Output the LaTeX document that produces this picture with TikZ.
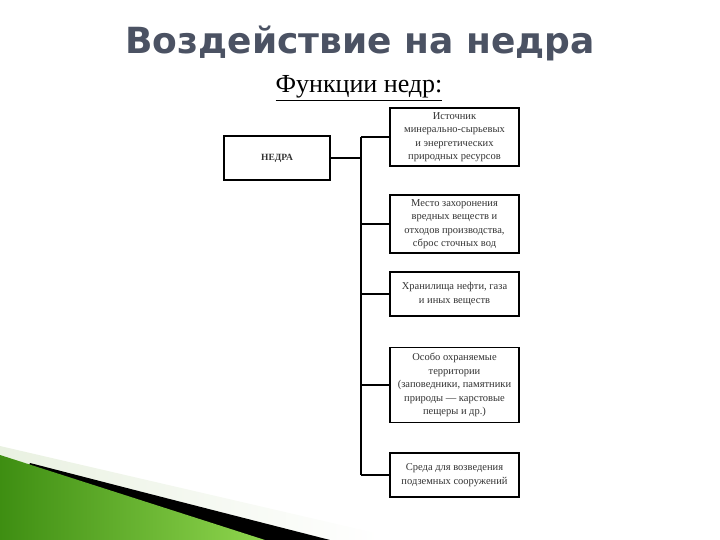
\documentclass[tikz,border=0pt]{standalone}
\usepackage{fontspec}
\setmainfont{Liberation Serif}
\newfontfamily\titlefont{DejaVu Sans}
\definecolor{titlecol}{HTML}{4B5263}
\definecolor{greendark}{HTML}{3E8E12}
\definecolor{greenlight}{HTML}{8FD64E}
\definecolor{paleband}{HTML}{E9F1E1}
\definecolor{boxtext}{HTML}{333333}
\begin{document}
\begin{tikzpicture}[x=1bp,y=-1bp,
  fbox/.style={draw=black, line width=1.3bp, fill=white, minimum width=129bp,
    inner sep=1bp, align=center, text=boxtext,
    font=\fontsize{10.5bp}{13.5bp}\selectfont},
  conn/.style={line width=1.3bp, draw=black}]
\useasboundingbox (0,0) rectangle (720,540);
% decoration bottom-left
\shade[left color=paleband, right color=white] (0,446) -- (380,534) -- (380,540) -- (0,540) -- cycle;
\fill[black] (30,463) .. controls (150,494) .. (330,540) -- (0,540) -- cycle;
\shade[left color=greendark, right color=greenlight] (0,455) -- (265,540) -- (0,540) -- cycle;
% title
\node[text=titlecol, font=\titlefont\bfseries\fontsize{36bp}{42bp}\selectfont] (title) at (360,43) {Воздействие на недра};
\node[font=\fontsize{26bp}{30bp}\selectfont] (sub) at (359,88) {\underline{Функции недр:}};
% main box
\node[draw=black, line width=1.3bp, minimum width=106bp, minimum height=44bp,
  font=\bfseries\fontsize{9.5bp}{11bp}\selectfont, text=boxtext] (nedra) at (277,158) {НЕДРА};
% right boxes
\node[fbox, minimum height=58bp] (b1) at (454.5,137) {Источник\\минерально-сырьевых\\и энергетических\\природных ресурсов};
\node[fbox, minimum height=58bp] (b2) at (454.5,224) {Место захоронения\\вредных веществ и\\отходов производства,\\сброс сточных вод};
\node[fbox, minimum height=44bp] (b3) at (454.5,294) {Хранилища нефти, газа\\и иных веществ};
\node[fbox, minimum height=75bp] (b4) at (454.5,385) {Особо охраняемые\\территории\\(заповедники, памятники\\природы — карстовые\\пещеры и др.)};
\node[fbox, minimum height=44bp] (b5) at (454.5,475) {Среда для возведения\\подземных сооружений};
% connectors
\coordinate (top) at (361,137);
\coordinate (bot) at (361,475);
\coordinate (mid) at (361,158);
\draw[conn] (top) -- (bot);
\draw[conn] (nedra.east) -- (mid);
\draw[conn] (top) -- (b1.west);
\draw[conn] (361,224) -- (b2.west);
\draw[conn] (361,294) -- (b3.west);
\draw[conn] (361,385) -- (b4.west);
\draw[conn] (bot) -- (b5.west);
\end{tikzpicture}
\end{document}
